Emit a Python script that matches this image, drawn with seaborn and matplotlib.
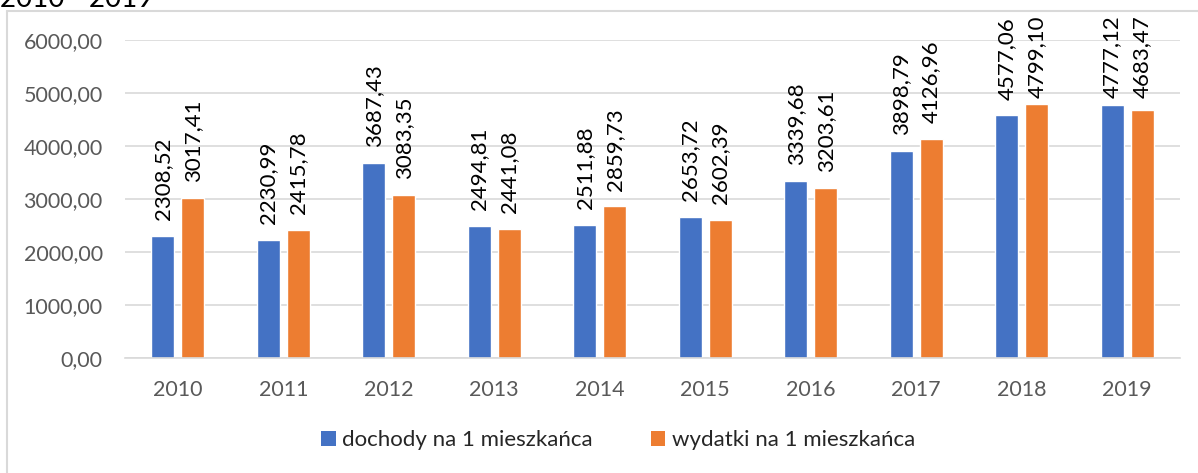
import matplotlib
matplotlib.use("Agg")
import matplotlib.pyplot as plt
import seaborn as sns
import pandas as pd
from matplotlib.lines import Line2D
from matplotlib.patches import Patch

years = ["2010", "2011", "2012", "2013", "2014", "2015", "2016", "2017", "2018", "2019"]
dochody = [2308.52, 2230.99, 3687.43, 2494.81, 2511.88, 2653.72, 3339.68, 3898.79, 4577.06, 4777.12]
wydatki = [3017.41, 2415.78, 3083.35, 2441.08, 2859.73, 2602.39, 3203.61, 4126.96, 4799.10, 4683.47]
series_names = ["dochody na 1 mieszkańca", "wydatki na 1 mieszkańca"]
yticks = [0, 1000, 2000, 3000, 4000, 5000, 6000]
colors = ["#4472C4", "#ED7D31"]

df = pd.DataFrame({
    "rok": years * 2,
    "wartosc": dochody + wydatki,
    "seria": [series_names[0]] * len(years) + [series_names[1]] * len(years),
})

sns.set_theme(style="white")
plt.rcParams["font.family"] = ["Lato", "DejaVu Sans"]

W, H = 1198, 473
fig = plt.figure(figsize=(W / 100, H / 100), dpi=100)
ax = fig.add_axes([125 / W, 1 - 358 / H, (1180 - 125) / W, (358 - 40) / H])

sns.barplot(data=df, x="rok", y="wartosc", hue="seria", palette=colors,
            width=0.57, gap=0.24, ax=ax, legend=False, saturation=1)

ax.set_ylim(0, 6000)
ax.set_xlim(-0.5, 9.5)

def fmt(v):
    return f"{v:.2f}".replace(".", ",")

# data labels: above the bar, but kept inside the chart area (as Excel does)
label_offset = 300   # data units above bar top
label_cap = 4905     # highest possible label base
for cont in ax.containers:
    for b in cont:
        h = b.get_height()
        x = b.get_x() + b.get_width() / 2
        ax.text(x, min(h + label_offset, label_cap), fmt(h), rotation=90,
                ha="center", va="bottom", fontsize=16, color="black", clip_on=False)

ax.set_yticks(yticks)
ax.set_yticklabels([fmt(v) for v in yticks])
ax.grid(axis="y", color="#d9d9d9", linewidth=1.2)
ax.set_axisbelow(True)
for s in ["top", "right", "left"]:
    ax.spines[s].set_visible(False)
ax.spines["bottom"].set_color("#d9d9d9")
ax.spines["bottom"].set_linewidth(1.2)
ax.tick_params(axis="both", length=0, labelsize=15.5, labelcolor="#595959")
ax.tick_params(axis="y", pad=16)
ax.tick_params(axis="x", pad=16)
ax.set_xlabel("")
ax.set_ylabel("")

handles = [Patch(facecolor=c, edgecolor="none") for c in colors]
fig.legend(handles, series_names, loc="center", bbox_to_anchor=(618 / W, 1 - 440 / H),
           ncol=2, frameon=False, fontsize=16, handlelength=0.65, handleheight=0.65,
           handletextpad=0.3, columnspacing=2.6)

# chart border (left and top visible)
fig.add_artist(Line2D([7 / W, 7 / W], [0, 1 - 11 / H], transform=fig.transFigure,
                      color="#d9d9d9", linewidth=1.5))
fig.add_artist(Line2D([7 / W, 1], [1 - 11 / H, 1 - 11 / H], transform=fig.transFigure,
                      color="#d9d9d9", linewidth=1.5))

fig.text(0, 1 - 7 / H, "2010 - 2019", fontsize=20, color="black", ha="left", va="baseline")

fig.savefig("out.png", dpi=100)
